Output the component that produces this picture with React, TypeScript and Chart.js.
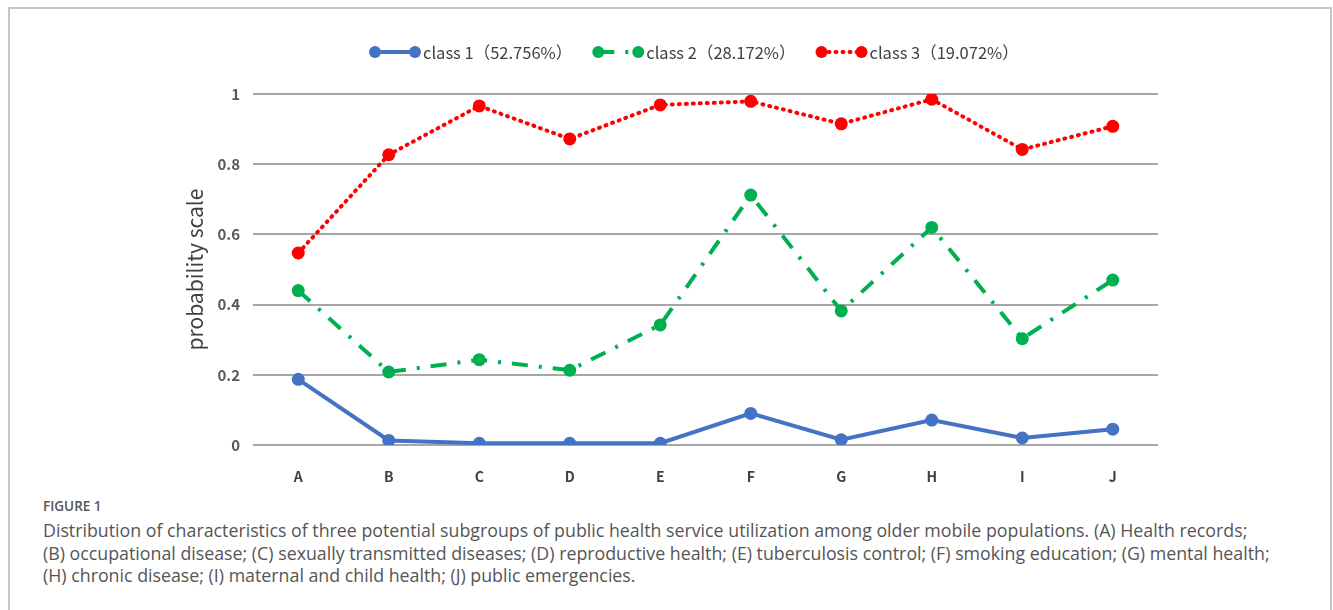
import React, { useEffect, useRef } from "react";
import { Chart, registerables } from "chart.js";

Chart.register(...registerables);

const categories = ["A", "B", "C", "D", "E", "F", "G", "H", "I", "J"];
const class1 = [0.187, 0.013, 0.005, 0.005, 0.005, 0.09, 0.015, 0.071, 0.02, 0.045];
const class2 = [0.44, 0.208, 0.243, 0.213, 0.342, 0.712, 0.382, 0.62, 0.303, 0.47];
const class3 = [0.547, 0.827, 0.966, 0.872, 0.969, 0.979, 0.915, 0.985, 0.842, 0.908];
const seriesLabels = ["class 1\uFF0852.756%\uFF09", "class 2\uFF0828.172%\uFF09", "class 3\uFF0819.072%\uFF09"];
const yTicks = [0, 0.2, 0.4, 0.6, 0.8, 1];

const BLUE = "#4472C4";
const GREEN = "#00B050";
const RED = "#FF0000";
const LEGEND_FONT = "16.5px 'Noto Sans CJK SC', 'Noto Sans', sans-serif";

const legendPlugin = {
  id: "customLegend",
  afterDraw(chart: any) {
    const ctx = chart.ctx;
    const ds = chart.data.datasets;
    ctx.save();
    ctx.font = LEGEND_FONT;
    const lineLen = 40;
    const gapText = 8;
    const gapItem = 26;
    let x = 375;
    const y = 52;
    ds.forEach((d: any) => {
      ctx.strokeStyle = d.borderColor;
      ctx.lineWidth = 4;
      ctx.setLineDash(d.borderDash || []);
      ctx.lineCap = d.borderCapStyle || "butt";
      ctx.beginPath();
      ctx.moveTo(x, y);
      ctx.lineTo(x + lineLen, y);
      ctx.stroke();
      ctx.setLineDash([]);
      ctx.fillStyle = d.borderColor;
      [x, x + lineLen].forEach((px) => {
        ctx.beginPath();
        ctx.arc(px, y, 6, 0, Math.PI * 2);
        ctx.fill();
      });
      ctx.fillStyle = "#404040";
      ctx.textBaseline = "middle";
      ctx.textAlign = "left";
      const tx = x + lineLen + gapText;
      ctx.fillText(d.label, tx, y + 1);
      x = tx + ctx.measureText(d.label).width + gapItem;
    });
    ctx.restore();
  },
};

export default function App() {
  const ref = useRef<HTMLCanvasElement | null>(null);
  useEffect(() => {
    if (!ref.current) return;
    const mk = (label: string, data: number[], color: string, dash: number[], cap: string) => ({
      label,
      data,
      borderColor: color,
      backgroundColor: color,
      borderWidth: 4,
      borderDash: dash,
      borderCapStyle: cap,
      pointRadius: 6.5,
      pointHoverRadius: 6.5,
      pointBackgroundColor: color,
      pointBorderWidth: 0,
      tension: 0,
    });
    const chart = new Chart(ref.current, {
      type: "line",
      data: {
        labels: categories,
        datasets: [
          mk(seriesLabels[0], class1, BLUE, [], "butt"),
          mk(seriesLabels[1], class2, GREEN, [16, 11, 3, 11], "butt"),
          mk(seriesLabels[2], class3, RED, [1, 6], "round"),
        ] as any,
      },
      options: {
        animation: false,
        responsive: true,
        maintainAspectRatio: false,
        layout: { padding: { left: 175, right: 175, top: 94, bottom: 0 } },
        plugins: { legend: { display: false }, tooltip: { enabled: false } },
        scales: {
          x: {
            offset: true,
            grid: { display: false },
            border: { display: false },
            ticks: {
              color: "#404040",
              padding: 15,
              font: { family: "'Noto Sans CJK SC', sans-serif", size: 14, weight: "bold" },
            },
            afterFit: (s: any) => {
              s.height = 45;
            },
          },
          y: {
            min: 0,
            max: 1,
            afterBuildTicks: (s: any) => {
              s.ticks = yTicks.map((v) => ({ value: v }));
            },
            grid: { color: "#a6a6a6", lineWidth: 2, drawTicks: false },
            border: { display: false },
            ticks: {
              color: "#595959",
              padding: 13,
              font: { family: "'Noto Sans CJK SC', sans-serif", size: 15, weight: "bold" },
              callback: (v: any) => String(Number(v)),
            },
            title: {
              display: true,
              text: "probability scale",
              color: "#404040",
              padding: { top: 7, bottom: 0 },
              font: { family: "'Noto Sans CJK SC', sans-serif", size: 21 },
            },
            afterFit: (s: any) => {
              s.width = 78;
            },
          },
        },
      },
      plugins: [legendPlugin],
    });
    return () => chart.destroy();
  }, []);

  const captionStyle: React.CSSProperties = {
    fontFamily: "'Open Sans', sans-serif",
    fontSize: 17.8,
    color: "#555",
    whiteSpace: "nowrap",
    lineHeight: "22.5px",
  };

  return (
    <div
      style={{
        position: "absolute",
        left: 8,
        top: 7,
        width: 1324,
        height: 603,
        boxSizing: "border-box",
        border: "2px solid #c6c6c6",
        borderBottom: "none",
        background: "#fff",
      }}
    >
      <div style={{ position: "absolute", left: -10, top: -9, width: 1333, height: 490 }}>
        <canvas ref={ref} />
      </div>
      <div
        style={{
          position: "absolute",
          left: 33,
          top: 488,
          fontFamily: "'Open Sans', sans-serif",
          fontSize: 13.5,
          fontWeight: 600,
          lineHeight: "18px",
          color: "#555",
        }}
      >
        FIGURE 1
      </div>
      <div style={{ position: "absolute", left: 33, top: 510 }}>
        <div style={captionStyle}>
          Distribution of characteristics of three potential subgroups of public health service utilization among older mobile populations. (A) Health records;
        </div>
        <div style={captionStyle}>
          (B) occupational disease; (C) sexually transmitted diseases; (D) reproductive health; (E) tuberculosis control; (F) smoking education; (G) mental health;
        </div>
        <div style={captionStyle}>
          (H) chronic disease; (I) maternal and child health; (J) public emergencies.
        </div>
      </div>
    </div>
  );
}
